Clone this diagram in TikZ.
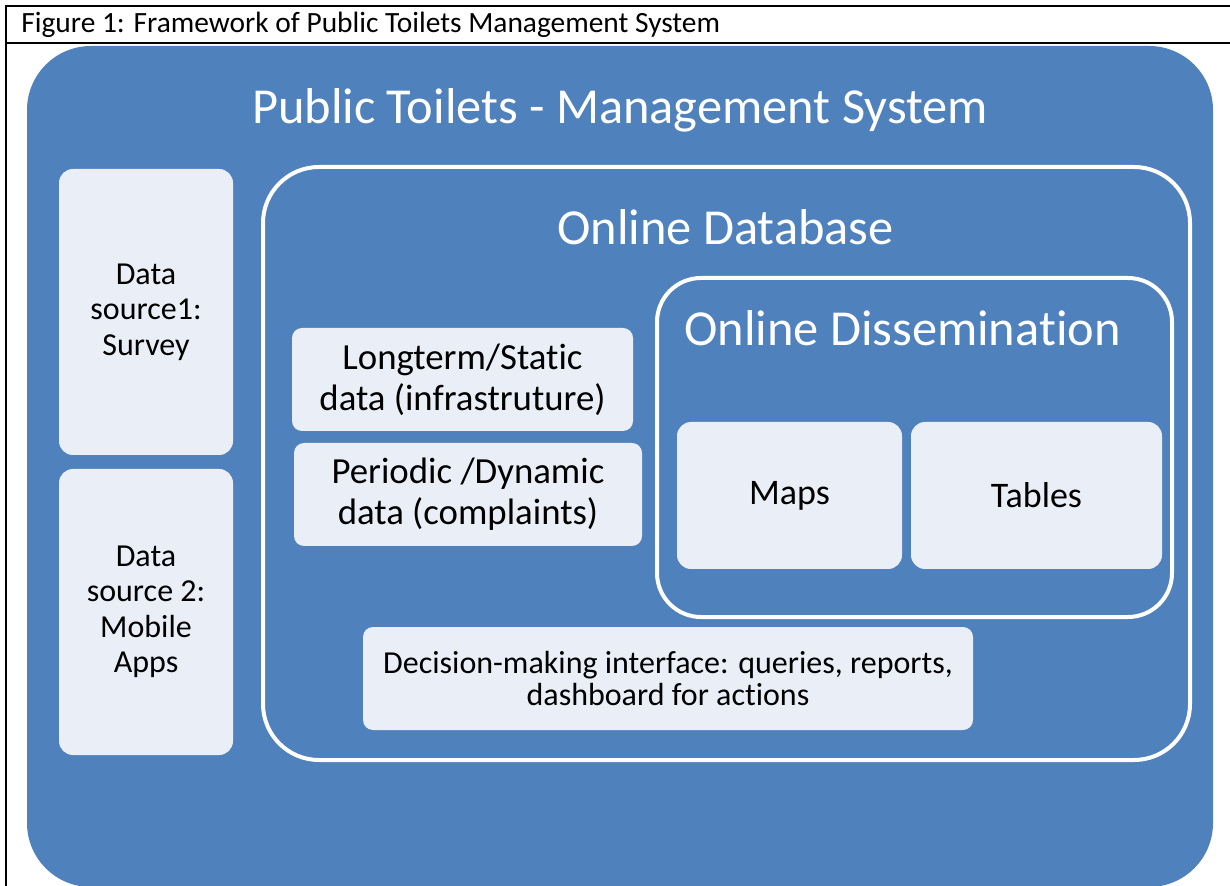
\documentclass[tikz,border=0pt]{standalone}
\usepackage{fontspec}
\setmainfont[Ligatures={NoCommon,NoRare,NoContextual},Contextuals=NoAlternate,RawFeature={-liga;-dlig;-calt;-clig;-hlig}]{Carlito}
\definecolor{oblue}{HTML}{4F81BD}
\definecolor{olight}{HTML}{EAEFF7}
\begin{document}
\begin{tikzpicture}[x=0.5pt,y=-0.5pt,
  lightbox/.style={fill=olight, draw=none, rounded corners=7pt, inner sep=0pt, align=center, text=black},
  whitebox/.style={draw=white, line width=2pt, fill=none, inner sep=0pt},
  heading/.style={text=white, inner sep=0pt, anchor=base, font=\fontsize{25.2}{30}\selectfont},
  frameline/.style={draw=black, line width=1pt}
]
\useasboundingbox (0,0) rectangle (1230,886);
\fill[white] (0,0) rectangle (1230,886);
% caption frame
\draw[frameline] (5,6) -- (1232,6);
\draw[frameline] (5,43) -- (1232,43);
\draw[frameline] (6,5) -- (6,888);
\node[anchor=base west, inner sep=0pt, font=\fontsize{14.7}{17}\selectfont] (cap) at (21,33) {Figure 1: Framework of Public Toilets Management System};
% outer system
\node[fill=oblue, draw=none, rounded corners=32pt, minimum width=593pt, minimum height=420.5pt, inner sep=0pt] (sys) at (620,466.5) {};
\node[heading] (systitle) at (620,124) {Public Toilets - Management System};
% data sources
\node[lightbox, minimum width=87pt, minimum height=143pt, font=\fontsize{16}{17.75}\selectfont] (ds1) at (146,312) {Data\\source1:\\Survey};
\node[lightbox, minimum width=87pt, minimum height=143pt, font=\fontsize{16}{17.75}\selectfont] (ds2) at (146,612) {Data\\source 2:\\Mobile\\Apps};
% online database
\node[whitebox, rounded corners=28pt, minimum width=463.5pt, minimum height=296.5pt] (odb) at (726.5,463.5) {};
\node[heading] (odbtitle) at (725.5,245) {Online Database};
\node[lightbox, rounded corners=5pt, minimum width=170.5pt, minimum height=51.5pt, font=\fontsize{18.4}{20.5}\selectfont] (long) at (462.5,379.5) {Longterm/Static\\data (infrastruture)};
\node[lightbox, rounded corners=5pt, minimum width=174pt, minimum height=51.5pt, font=\fontsize{18.4}{20.5}\selectfont] (per) at (468,494.5) {Periodic /Dynamic\\data (complaints)};
% online dissemination
\node[whitebox, rounded corners=22pt, minimum width=257.5pt, minimum height=169.5pt] (odis) at (914.5,447.5) {};
\node[heading] (odistitle) at (902.5,346) {Online Dissemination};
\node[lightbox, minimum width=112.5pt, minimum height=73.5pt, font=\fontsize{18}{20.5}\selectfont] (maps) at (789.5,495.5) {Maps};
\node[lightbox, minimum width=125.5pt, minimum height=73.5pt, font=\fontsize{18}{20.5}\selectfont] (tables) at (1036.5,495.5) {Tables};
% decision
\node[lightbox, rounded corners=5pt, minimum width=305pt, minimum height=51.5pt, font=\fontsize{16}{16}\selectfont] (dec) at (668,678.5) {Decision-making interface: queries, reports,\\dashboard for actions};
\end{tikzpicture}
\end{document}
